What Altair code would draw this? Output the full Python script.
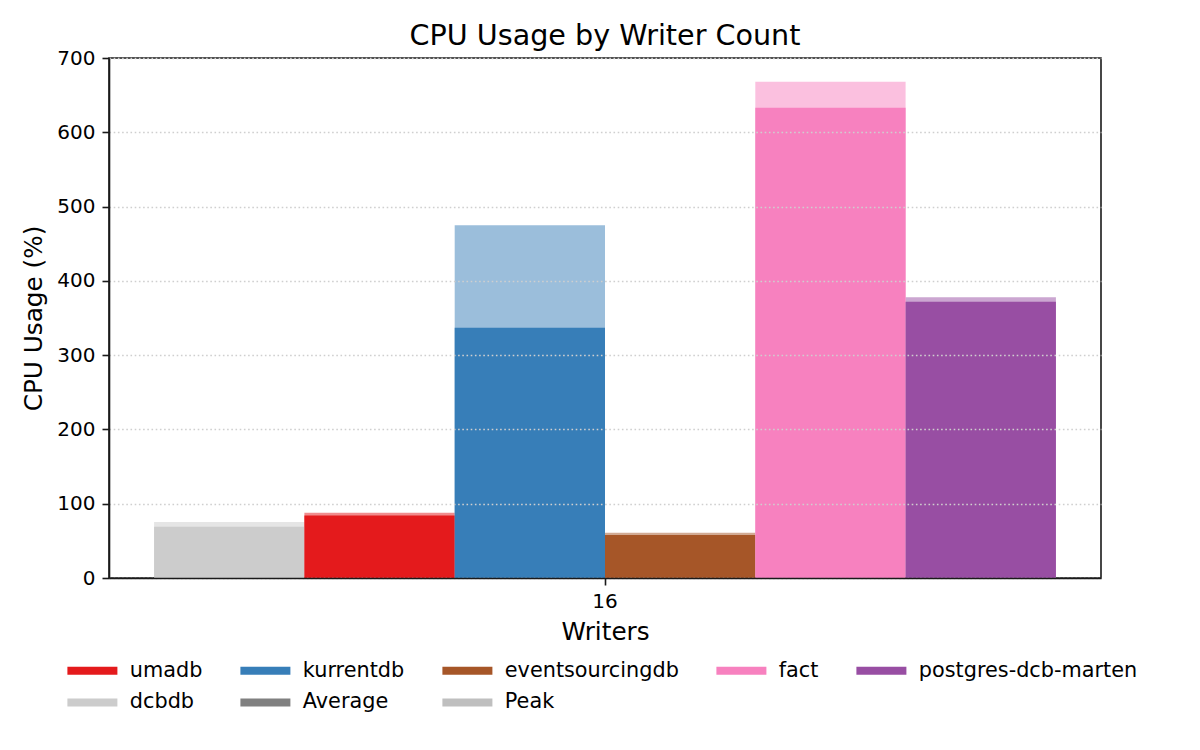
import altair as alt
import pandas as pd

writers = ["16"]
databases = ["dcbdb", "umadb", "kurrentdb", "eventsourcingdb", "fact", "postgres-dcb-marten"]
avg_cpu = [69, 84, 337, 58, 633, 372]
peak_cpu = [75.5, 88, 475, 61, 668, 378]

legend_names = ["umadb", "kurrentdb", "eventsourcingdb", "fact", "postgres-dcb-marten",
                "dcbdb", "Average", "Peak"]
legend_colors = ["#e41a1c", "#377eb8", "#a65628", "#f781bf", "#984ea3",
                 "#cccccc", "#808080", "#bfbfbf"]

rows = []
for db, a, p in zip(databases, avg_cpu, peak_cpu):
    rows.append({"writers": writers[0], "db": db, "metric": "Average", "cpu": a})
    rows.append({"writers": writers[0], "db": db, "metric": "Peak", "cpu": p})
df = pd.DataFrame(rows)

FONT = "DejaVu Sans"

x_enc = alt.X("writers:N", title="Writers",
              scale=alt.Scale(paddingInner=0, paddingOuter=0.05),
              axis=alt.Axis(labelAngle=0, labelFontSize=20, titleFontSize=24.7,
                            titleFontWeight="normal", tickSize=7, labelPadding=6,
                            titlePadding=8, domainColor="#1a1a1a", domainWidth=1.6,
                            tickColor="#1a1a1a", tickWidth=1.6, labelColor="black",
                            titleColor="black", grid=False, zindex=2))
xoff_enc = alt.XOffset("db:N", sort=databases,
                       scale=alt.Scale(domain=databases, paddingInner=0, paddingOuter=0))
y_enc = alt.Y("cpu:Q", title="CPU Usage (%)",
              scale=alt.Scale(domain=[0, 700], nice=False),
              axis=alt.Axis(values=[0, 100, 200, 300, 400, 500, 600, 700],
                            labelFontSize=20, titleFontSize=24.7, titleFontWeight="normal",
                            tickSize=7, labelPadding=7, titlePadding=10,
                            domainColor="#1a1a1a", domainWidth=1.6,
                            tickColor="#1a1a1a", tickWidth=1.6, labelColor="black",
                            titleColor="black", grid=True, gridColor="#cfcfcf",
                            gridDash=[1.6, 2.6], gridWidth=1.3, zindex=1))
color_enc = alt.Color("db:N",
                      scale=alt.Scale(domain=legend_names, range=legend_colors),
                      legend=alt.Legend(title=None, orient="none", legendX=-48, legendY=602,
                                        columns=5, direction="horizontal",
                                        symbolType="M-1,-1L11.5,-1L11.5,1L-1,1Z",
                                        symbolSize=64, symbolStrokeWidth=0,
                                        symbolOpacity=1, labelFontSize=20.8,
                                        labelOffset=48, labelLimit=400, columnPadding=31,
                                        rowPadding=10, padding=0, labelColor="black",
                                        labelFont=FONT))

base = alt.Chart(df).encode(x=x_enc, xOffset=xoff_enc, y=y_enc, color=color_enc)

peak = base.transform_filter(alt.datum.metric == "Peak").mark_bar(opacity=0.5)
avg = base.transform_filter(alt.datum.metric == "Average").mark_bar(opacity=1)

chart = alt.layer(peak, avg).properties(
    width=992, height=520,
    title=alt.TitleParams("CPU Usage by Writer Count", fontSize=28.6, fontWeight="normal",
                          font=FONT, color="black", anchor="middle", offset=-3),
    autosize=alt.AutoSizeParams(type="none"),
    padding={"left": 101, "top": 50, "right": 91, "bottom": 165},
).configure(font=FONT).configure_view(
    stroke="#1a1a1a", strokeWidth=1.6
).configure_axis(labelFont=FONT, titleFont=FONT)

chart.save("out.html", embed_options={"renderer": "svg", "actions": False})
